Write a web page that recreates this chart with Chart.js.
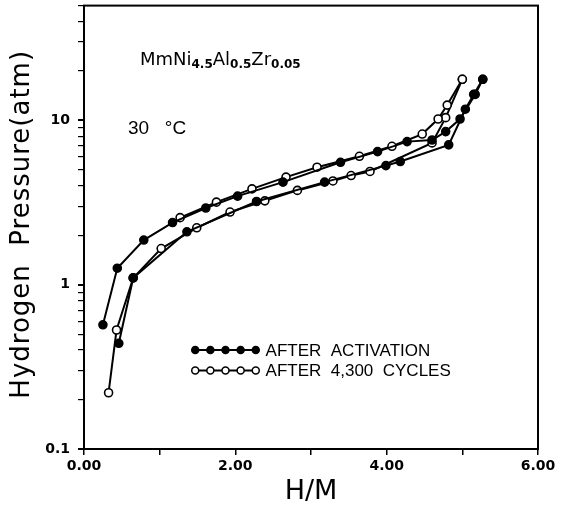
<!DOCTYPE html>
<html>
<head>
<meta charset="utf-8">
<script src="https://cdn.jsdelivr.net/npm/chart.js@4"></script>
<style>
  html, body { margin: 0; padding: 0; background: #fff; }
  #wrap { width: 565px; height: 508px; }
</style>
</head>
<body>
<div id="wrap"><canvas id="pctChart" width="565" height="508"></canvas></div>
<script>
// H/M vs pressure (atm)
const activationAbsX = [0.25, 0.44, 0.79, 1.17, 1.61, 2.03, 2.63, 3.39, 3.88, 4.27, 4.60, 4.78, 4.97, 5.17, 5.27];
const activationAbsP = [0.57, 1.26, 1.87, 2.39, 2.93, 3.46, 4.21, 5.56, 6.46, 7.43, 7.60, 8.55, 10.2, 14.4, 17.8];

const activationDesX = [5.27, 5.15, 5.04, 4.82, 4.18, 3.99, 3.18, 2.28, 1.36, 0.65, 0.46];
const activationDesP = [17.8, 14.4, 11.7, 7.10, 5.62, 5.31, 4.21, 3.21, 2.10, 1.10, 0.44];

const cycledAbsX = [1.27, 1.75, 2.22, 2.67, 3.08, 3.64, 4.07, 4.47, 4.68, 4.80, 5.00];
const cycledAbsP = [2.56, 3.18, 3.83, 4.52, 5.19, 6.05, 6.96, 8.26, 10.2, 12.4, 17.8];

const cycledDesX = [5.00, 4.78, 4.60, 3.78, 3.53, 3.29, 2.82, 2.39, 1.93, 1.49, 1.02, 0.65, 0.43, 0.325];
const cycledDesP = [17.8, 10.4, 7.30, 4.89, 4.62, 4.28, 3.75, 3.24, 2.77, 2.22, 1.66, 1.10, 0.53, 0.22];

const xTickLabels = ['0.00', '2.00', '4.00', '6.00'];
const yTickValues = [0.1, 0.2, 0.3, 0.4, 0.5, 0.6, 0.7, 0.8, 0.9, 1, 2, 3, 4, 5, 6, 7, 8, 9, 10, 20, 30, 40, 50];
const yTickLabels = { 0.1: '0.1', 1: '1', 10: '10' };

const legendLabels = ['AFTER  ACTIVATION', 'AFTER  4,300  CYCLES'];
const yTitle = 'Hydrogen  Pressure(atm)';

const FONT = '"Liberation Sans", "DejaVu Sans", sans-serif';
const WIDE = '"DejaVu Sans", sans-serif';

function toPoints(xs, ys) {
    return xs.map((x, i) => ({ x: x, y: ys[i] }));
}

function series(xs, ys, filled) {
    return {
        data: toPoints(xs, ys),
        showLine: true,
        borderColor: '#000',
        borderWidth: 2,
        pointRadius: 4,
        pointBorderWidth: 1.6,
        pointBorderColor: '#000',
        pointBackgroundColor: filled ? '#000' : '#fff',
        tension: 0
    };
}

// frame, in-plot labels, y title and the hand-made legend
const overlay = {
    id: 'overlay',
    afterDraw(chart) {
        const ctx = chart.ctx;
        const area = chart.chartArea;
        const xs = chart.scales.x;
        const ys = chart.scales.y;
        ctx.save();

        ctx.strokeStyle = '#000';
        ctx.lineWidth = 2;
        ctx.strokeRect(area.left, area.top, area.right - area.left, area.bottom - area.top);

        // y axis title, a bit spread out like the plotter font
        ctx.save();
        ctx.translate(22, (area.top + area.bottom) / 2 - 3);
        ctx.rotate(-Math.PI / 2);
        ctx.font = '26px ' + WIDE;
        ctx.letterSpacing = '1px';
        ctx.textAlign = 'center';
        ctx.textBaseline = 'middle';
        ctx.fillStyle = '#000';
        ctx.fillText(yTitle, 0, 0);
        ctx.restore();

        // compound name with subscripts
        ctx.fillStyle = '#000';
        ctx.textBaseline = 'alphabetic';
        let px = xs.getPixelForValue(0.74);
        const py = ys.getPixelForValue(24) + 7;
        const parts = [['MmNi', false], ['4.5', true], ['Al', false], ['0.5', true], ['Zr', false], ['0.05', true]];
        parts.forEach(([t, sub]) => {
            ctx.font = (sub ? 'bold 12px ' : '18px ') + WIDE;
            ctx.fillText(t, px, sub ? py + 3 : py);
            px += ctx.measureText(t).width;
        });

        ctx.font = '19px ' + FONT;
        ctx.fillText('30   °C', xs.getPixelForValue(0.58), ys.getPixelForValue(9.1) + 7);

        // legend
        const legendY = [ys.getPixelForValue(0.40), ys.getPixelForValue(0.30)];
        const x0 = xs.getPixelForValue(1.47);
        const x1 = xs.getPixelForValue(2.27);
        ctx.font = '17px ' + FONT;
        ctx.textBaseline = 'middle';
        legendY.forEach((y, i) => {
            ctx.lineWidth = 2;
            ctx.beginPath();
            ctx.moveTo(x0, y);
            ctx.lineTo(x1, y);
            ctx.stroke();
            for (let k = 0; k < 5; k++) {
                const cx = x0 + (x1 - x0) * k / 4;
                ctx.beginPath();
                ctx.arc(cx, y, 3.5, 0, Math.PI * 2);
                ctx.fillStyle = i === 0 ? '#000' : '#fff';
                ctx.fill();
                ctx.lineWidth = 1.5;
                ctx.stroke();
            }
            ctx.fillStyle = '#000';
            ctx.fillText(legendLabels[i], xs.getPixelForValue(2.40), y + 1);
        });

        ctx.restore();
    }
};

function drawChart() {
    const ctx = document.getElementById('pctChart').getContext('2d');

    new Chart(ctx, {
        type: 'scatter',
        data: {
            datasets: [
                series(activationAbsX, activationAbsP, true),
                series(activationDesX, activationDesP, true),
                series(cycledAbsX, cycledAbsP, false),
                series(cycledDesX, cycledDesP, false)
            ]
        },
        options: {
            responsive: false,
            animation: false,
            layout: { padding: { top: 5, right: 27, left: 0, bottom: 0 } },
            plugins: {
                legend: { display: false },
                tooltip: { enabled: false }
            },
            scales: {
                x: {
                    type: 'linear',
                    min: 0,
                    max: 6,
                    afterFit: (scale) => { scale.height = 59; },
                    ticks: {
                        stepSize: 1,
                        color: '#000',
                        font: { family: WIDE, size: 14, weight: 'bold' },
                        padding: 3,
                        maxRotation: 0,
                        callback: (v) => (v % 2 === 0 ? xTickLabels[v / 2] : '')
                    },
                    grid: { drawOnChartArea: false, color: '#000', tickLength: 6, lineWidth: 1.5 },
                    border: { color: '#000', width: 2 },
                    title: {
                        display: true,
                        text: 'H/M',
                        color: '#000',
                        font: { family: WIDE, size: 27 },
                        padding: { top: 0, bottom: 0 }
                    }
                },
                y: {
                    type: 'logarithmic',
                    min: 0.1,
                    max: 50,
                    afterFit: (scale) => {
                        scale.width = 84;
                        scale.paddingTop = 0;
                        scale.paddingBottom = 0;
                    },
                    afterBuildTicks: (scale) => {
                        scale.ticks = yTickValues.map(v => ({ value: v, major: v in yTickLabels }));
                    },
                    ticks: {
                        autoSkip: false,
                        color: '#000',
                        font: { family: WIDE, size: 14, weight: 'bold' },
                        padding: 8,
                        callback: (v) => yTickLabels[v] || ''
                    },
                    grid: {
                        drawOnChartArea: false,
                        color: '#000',
                        tickLength: 6,
                        lineWidth: (c) => (c.tick && c.tick.value in yTickLabels ? 2 : 1.2)
                    },
                    border: { color: '#000', width: 2 },
                    title: { display: false }
                }
            }
        },
        plugins: [overlay]
    });
}

drawChart();
</script>
</body>
</html>
